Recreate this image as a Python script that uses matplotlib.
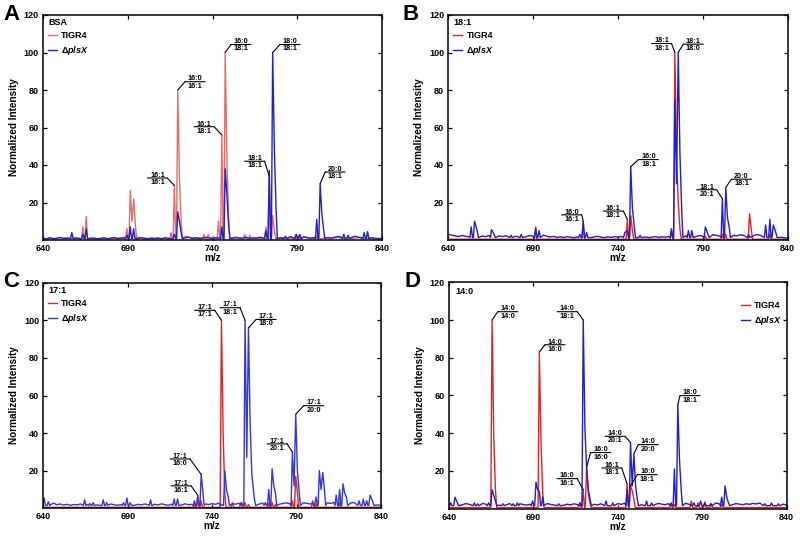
import matplotlib
matplotlib.use("Agg")
import matplotlib.pyplot as plt
from matplotlib.transforms import offset_copy
import numpy as np

plt.rcParams['font.family'] = ['Liberation Sans', 'DejaVu Sans']
plt.rcParams['font.weight'] = 'bold'
plt.rcParams['mathtext.fontset'] = 'custom'
plt.rcParams['mathtext.it'] = 'Liberation Sans:italic:bold'
plt.rcParams['mathtext.rm'] = 'Liberation Sans:bold'

# ---------------- data ----------------
x_ticks = [640, 690, 740, 790, 840]
y_ticks = [20, 40, 60, 80, 100, 120]
series_names = ["TIGR4", "\u0394$\\mathit{plsX}$"]
panel_letters = ["A", "B", "C", "D"]
panel_titles = ["BSA", "18:1", "17:1", "14:0"]

# baseline sampling positions (m/z)
base_mz = [640, 642, 644, 646, 648, 650, 652, 654, 656, 658, 660, 662, 664, 666, 668,
           670, 672, 674, 676, 678, 680, 682, 684, 686, 688, 690, 692, 694, 696, 698,
           700, 702, 704, 706, 708, 710, 712, 714, 716, 718, 720, 722, 724, 726, 728,
           730, 732, 734, 736, 738, 740, 742, 744, 746, 748, 750, 752, 754, 756, 758,
           760, 762, 764, 766, 768, 770, 772, 774, 776, 778, 780, 782, 784, 786, 788,
           790, 792, 794, 796, 798, 800, 802, 804, 806, 808, 810, 812, 814, 816, 818,
           820, 822, 824, 826, 828, 830, 832, 834, 836, 838, 840]
flat_mz = [640, 700, 760, 840]

# Panel A (BSA)
a_red_mz = [663.5, 665.5, 689.5, 691.5, 692.5, 693.5, 694.5, 715.5, 717.5, 719.5, 720.5, 721.5,
            735.0, 737.5, 743.5, 745.5, 747.5, 748.5, 749.5, 759.0, 762.0, 771.5, 773.5, 775.5,
            776.5, 789.0, 791.0, 801.5]
a_red_int = [7, 12.5, 6, 26.5, 10, 22, 8, 4, 29, 80, 33, 10,
             3, 3, 10, 56, 100, 43, 12, 3, 2.5, 7, 34, 13,
             5, 3, 2.5, 2]
a_red_base = [0.8, 0.5, 0.9, 0.6, 0.8, 0.5, 1.0, 0.7, 0.9, 0.6, 0.8, 0.5, 0.9, 0.7, 1.0,
              0.6, 0.8, 0.5, 0.9, 0.6, 0.8, 1.0, 0.7, 0.9, 1.5, 1.2, 0.9, 1.3, 1.6, 1.0,
              0.7, 0.9, 0.6, 0.8, 1.0, 0.7, 0.9, 0.6, 1.1, 0.8, 1.2, 1.6, 2.0, 1.4, 1.0,
              0.8, 1.2, 0.9, 1.3, 1.7, 1.4, 1.0, 1.2, 0.8, 1.1, 0.9, 1.3, 1.6, 1.0, 1.2,
              0.9, 1.2, 0.8, 1.0, 0.7, 0.9, 1.1, 1.4, 1.8, 1.2, 0.9, 1.1, 0.8, 1.0, 1.3,
              0.9, 1.2, 1.8, 1.4, 1.0, 0.8, 1.1, 0.7, 1.0, 1.2, 0.8, 1.1, 1.4, 1.0, 0.8,
              1.1, 0.8, 1.0, 1.3, 0.9, 0.7, 1.0, 0.8, 0.6, 0.7, 0.5]
a_blue_mz = [657.0, 663.5, 665.5, 689.5, 691.5, 693.5, 717.5, 719.5, 720.5, 721.5, 745.5, 747.5,
             748.5, 749.5, 771.5, 773.5, 775.5, 776.5, 777.5, 783.0, 789.5, 791.5, 801.5, 803.5,
             804.5, 805.5, 817.5, 820.0, 829.5, 831.5]
a_blue_int = [4, 3, 6, 2.5, 7, 6, 3, 15, 10, 4, 7, 38,
              24, 8, 5, 37, 100, 48, 17, 2, 3, 3, 11, 30,
              14, 6, 3, 2.5, 4, 4.5]
a_blue_base = [1.0, 0.6, 1.2, 0.7, 0.9, 1.4, 0.8, 1.1, 1.6, 0.9, 1.2, 0.7, 1.0, 1.3, 0.8,
               1.1, 0.6, 0.9, 1.2, 0.7, 1.0, 1.3, 0.8, 1.1, 0.9, 1.4, 0.8, 1.0, 0.7, 1.2,
               0.9, 0.6, 1.1, 0.8, 1.0, 0.7, 1.2, 0.9, 0.6, 1.0, 1.3, 0.8, 1.1, 1.5, 0.9,
               1.2, 0.8, 1.0, 1.4, 1.1, 0.8, 1.2, 1.0, 0.7, 1.3, 1.6, 1.0, 1.2, 0.9, 1.1,
               1.4, 0.9, 1.2, 1.0, 1.5, 1.1, 0.8, 1.3, 1.0, 1.4, 1.2, 0.9, 1.3, 1.8, 1.1,
               1.4, 1.0, 1.6, 1.2, 0.9, 1.3, 1.5, 1.1, 1.8, 1.3, 1.0, 1.5, 1.9, 1.4, 2.2,
               1.8, 1.3, 2.0, 1.5, 1.2, 2.0, 1.6, 1.2, 0.9, 0.8, 0.6]

# Panel B (18:1)
b_red_mz = [691.5, 719.5, 745.5, 747.5, 748.5, 771.5, 773.5, 774.5, 775.5, 776.5, 791.5, 801.5,
            803.5, 817.5, 818.5, 829.5]
b_red_int = [7, 9, 11, 13, 5, 5, 100, 45, 20, 6, 2, 3,
             3, 14, 6, 3]
b_red_base = [0.4, 0.4, 0.4, 0.4]
b_blue_mz = [653.5, 655.5, 657.0, 665.5, 667.0, 677.0, 683.0, 691.5, 693.5, 717.5, 719.5, 721.5,
             744.0, 745.5, 747.5, 748.5, 749.5, 753.0, 771.5, 773.5, 774.5, 775.5, 776.5, 777.5,
             781.5, 783.5, 791.5, 793.0, 801.5, 803.5, 804.5, 805.5, 817.0, 827.0, 829.5, 831.5,
             833.0]
b_blue_int = [7, 10, 5, 5.5, 3, 2.5, 3, 6, 5, 3, 10, 4,
              4, 5, 39, 17, 8, 2.5, 6, 75, 30, 100, 46, 17,
              5, 5, 7, 3, 22, 28, 12, 7, 3, 8, 11, 8,
              4]
b_blue_base = [3.0, 2.6, 2.2, 1.8, 2.4, 2.0, 1.7, 2.3, 1.9, 2.6, 2.1, 1.8, 2.4, 2.0, 2.7,
               2.2, 1.8, 2.3, 1.9, 2.5, 2.1, 2.8, 2.2, 1.8, 2.4, 2.0, 1.7, 2.3, 2.6, 2.0,
               1.6, 1.9, 1.4, 1.7, 1.3, 1.8, 1.5, 1.2, 1.6, 1.9, 1.4, 1.7, 1.3, 1.6, 2.0,
               1.5, 1.3, 1.7, 1.4, 1.8, 1.5, 1.9, 1.6, 2.2, 1.8, 1.5, 1.7, 1.4, 1.6, 1.3,
               1.5, 1.8, 1.4, 1.7, 1.5, 1.9, 2.2, 1.8, 2.5, 2.0, 2.3, 2.7, 2.1, 1.8, 2.4,
               2.0, 2.6, 2.2, 2.9, 2.4, 2.1, 2.6, 2.3, 2.0, 2.5, 2.2, 2.8, 2.4, 2.1, 2.6,
               2.3, 2.9, 2.5, 3.2, 2.7, 2.2, 2.0, 1.6, 1.4, 1.2, 1.0]

# Panel C (17:1)
c_red_mz = [729.5, 731.5, 733.5, 745.5, 746.5, 747.5, 752.0, 757.0, 759.5, 761.5, 773.5, 775.5,
            777.5, 787.5, 789.5, 790.5, 799.5, 801.5, 815.5]
c_red_int = [2, 7, 4, 100, 40, 8, 3, 3, 3, 2, 2.5, 3,
             2, 4, 17, 8, 4, 2, 3]
c_red_base = [0.5, 0.5, 0.5, 0.5]
c_blue_mz = [640.5, 643.0, 664.5, 667.5, 669.5, 675.5, 677.5, 687.5, 689.5, 691.5, 703.5, 717.5,
             719.5, 729.5, 731.5, 733.5, 734.5, 745.5, 747.5, 748.5, 749.5, 757.5, 759.5, 760.5,
             761.5, 762.5, 763.5, 765.0, 771.5, 773.5, 775.5, 776.5, 777.5, 787.5, 788.5, 789.5,
             790.5, 791.5, 801.5, 803.5, 804.5, 805.5, 806.5, 813.5, 815.5, 817.5, 818.5, 819.5,
             827.0, 829.5, 831.5, 833.5, 835.0]
c_blue_int = [5.5, 3.5, 4.5, 2.5, 3, 4.5, 3, 3, 5.5, 3, 4.5, 5,
              5, 4, 6, 18, 9, 2, 20, 10, 6, 3, 100, 27,
              96, 45, 18, 5, 3, 10, 21, 12, 8, 30, 12, 50,
              20, 9, 6, 20, 10, 19, 10, 7, 10, 13, 8, 6,
              4, 5, 4, 7, 4]
c_blue_base = [4.5, 3.0, 2.2, 2.8, 1.9, 2.3, 1.7, 2.1, 1.6, 2.0, 1.8, 2.3, 1.6, 2.0, 1.7,
               2.2, 1.8, 1.5, 2.1, 1.7, 2.3, 1.8, 1.6, 2.0, 1.7, 2.2, 1.9, 1.6, 2.1, 1.8,
               2.3, 1.9, 1.6, 2.1, 1.8, 2.4, 1.9, 1.6, 2.2, 1.8, 2.0, 1.7, 2.4, 1.9, 2.1,
               2.6, 2.0, 1.8, 2.3, 2.0, 2.5, 2.1, 2.8, 2.3, 2.6, 3.0, 2.4, 2.2, 2.7, 2.3,
               2.8, 2.4, 2.1, 2.6, 2.3, 2.8, 2.5, 2.2, 2.7, 2.4, 2.2, 2.6, 2.9, 2.4, 2.2,
               2.7, 2.5, 3.0, 2.6, 2.3, 2.8, 3.2, 2.7, 2.4, 2.9, 2.6, 3.1, 2.7, 3.4, 2.9,
               3.3, 2.8, 3.1, 3.6, 3.0, 3.5, 3.9, 3.2, 2.5, 1.8, 1.5]

# Panel D (14:0)
d_red_mz = [665.5, 666.5, 667.5, 693.5, 694.5, 695.5, 717.5, 719.5, 721.5, 722.5, 723.5, 745.5,
            747.5, 748.5, 749.5, 771.5, 773.5, 783.5, 787.5, 791.5, 795.5, 801.5]
d_red_int = [100, 38, 10, 83, 35, 8, 3, 10, 22, 8, 3, 13,
             12, 9.5, 5, 2, 2, 4, 3, 3.5, 2.5, 2]
d_red_base = [0.5, 0.5, 0.5, 0.5]
d_blue_mz = [641.0, 643.5, 645.0, 655.0, 657.0, 663.5, 665.5, 666.5, 667.5, 672.0, 678.0, 680.5,
             689.5, 691.5, 692.5, 693.5, 695.5, 705.0, 717.5, 719.5, 720.5, 721.5, 722.5, 723.5,
             733.0, 737.0, 745.5, 747.5, 748.5, 749.5, 750.5, 751.5, 757.0, 760.0, 771.5, 773.5,
             775.5, 776.5, 777.5, 785.0, 789.0, 791.5, 795.0, 801.5, 803.5, 804.5, 805.5, 827.0,
             831.0, 835.0]
d_blue_int = [3, 6, 3, 3, 2.5, 3, 10, 7, 4, 2.5, 2.5, 3,
              4, 14, 10, 9, 6, 2.5, 3, 100, 42, 22, 10, 5,
              4, 3, 10, 35, 12, 29, 12, 5, 4, 3, 3, 21,
              55, 26, 10, 3, 4, 3, 2.5, 6, 12, 6, 3, 2.5,
              3, 2.5]
d_blue_base = [3.0, 2.6, 3.5, 2.4, 2.0, 2.6, 2.2, 1.8, 2.4, 2.0, 2.7, 2.2, 1.9, 2.5, 2.1,
               1.8, 2.4, 2.0, 2.6, 2.2, 1.9, 2.5, 2.1, 1.8, 2.3, 2.0, 2.8, 2.4, 2.1, 2.6,
               2.2, 1.9, 2.4, 2.0, 1.7, 2.3, 1.9, 2.5, 2.1, 1.8, 2.4, 2.0, 2.6, 2.2, 1.9,
               2.5, 2.1, 2.7, 2.3, 2.0, 2.6, 2.2, 2.8, 2.4, 2.1, 2.7, 2.3, 2.0, 2.6, 2.9,
               2.4, 2.1, 2.7, 2.3, 2.0, 2.6, 2.2, 2.8, 2.4, 2.1, 2.7, 2.3, 2.9, 2.5, 2.2,
               2.8, 3.1, 2.6, 2.3, 2.9, 2.5, 2.2, 2.8, 2.4, 2.1, 2.6, 2.3, 2.0, 2.5, 2.2,
               2.7, 2.4, 2.9, 2.5, 2.8, 3.2, 2.7, 2.4, 2.9, 2.3, 1.8]

# annotations: (top label, bottom label, series, peak m/z)
ann_a = [("16:1", "16:1", "red", 717.5), ("16:0", "16:1", "red", 719.5),
         ("16:1", "18:1", "red", 745.5), ("16:0", "18:1", "red", 747.5),
         ("18:1", "18:1", "red", 773.5), ("18:0", "18:1", "blue", 775.5),
         ("20:0", "18:1", "blue", 803.5)]
ann_b = [("16:0", "16:1", "blue", 719.5), ("16:1", "18:1", "red", 745.5),
         ("16:0", "18:1", "blue", 747.5), ("18:1", "18:1", "red", 773.5),
         ("18:1", "18:0", "blue", 775.5), ("18:1", "20:1", "blue", 801.5),
         ("20:0", "18:1", "blue", 803.5)]
ann_c = [("17:1", "16:1", "red", 731.5), ("17:1", "16:0", "blue", 733.5),
         ("17:1", "17:1", "red", 745.5), ("17:1", "18:1", "blue", 759.5),
         ("17:1", "18:0", "blue", 761.5), ("17:1", "20:1", "blue", 787.5),
         ("17:1", "20:0", "blue", 789.5)]
ann_d = [("14:0", "14:0", "red", 665.5), ("14:0", "16:0", "red", 693.5),
         ("14:0", "18:1", "blue", 719.5), ("16:0", "16:1", "red", 719.5),
         ("16:0", "16:0", "red", 721.5), ("16:1", "18:1", "red", 745.5),
         ("14:0", "20:1", "blue", 747.5), ("14:0", "20:0", "blue", 749.5),
         ("16:0", "18:1", "red", 747.5), ("18:0", "18:1", "blue", 775.5)]

# ---------------- layout / style ----------------
# label leader offsets in pixels (side, dx, dy)
lay_a = [("L", -7, 7.6), ("R", 7.3, 8.3), ("L", -7.7, 8.3), ("R", 5.7, 8),
         ("L", -4.7, 15), ("R", 7.3, 8), ("R", 5, 11.7)]
lay_b = [("L", -1.5, 6.4), ("L", -4, 8.3), ("R", 7.7, 7.3), ("L", -3.3, 9),
         ("R", 5, 8.3), ("L", -5.7, 9), ("R", 5.7, 8.3)]
lay_c = [("L", -6.7, 9.3), ("L", -11.2, 15.5), ("L", -6.7, 10), ("L", -5, 12.6),
         ("R", 7.7, 8.4), ("L", -5.3, 8), ("R", 8, 8.6)]
lay_d = [("R", 5.7, 8.3), ("R", 5.7, 7.3), ("L", -6, 8.3), ("L", -6, 11),
         ("R", 4, 14.5), ("L", -5.4, 16), ("L", -5.5, 6.2), ("R", 4.4, 9.2),
         ("R", 6.8, 11.2), ("R", 2.2, 9.2)]

RED = "#e32222"
RED_A = "#e86a6a"
BLUE = "#2020c8"
BLUE_C = "#3535dc"

fig = plt.figure(figsize=(8.0, 5.37), dpi=100)

panels = [
    dict(pos=[43 / 800, 1 - 240 / 537, 339 / 800, 225 / 537],
         red=(a_red_mz, a_red_int, base_mz, a_red_base, 0.6),
         blue=(a_blue_mz, a_blue_int, base_mz, a_blue_base, 0.8),
         ann=ann_a, lay=lay_a, rc=RED_A, bc=BLUE, letter_xy=(0.004, 0.992)),
    dict(pos=[448.3 / 800, 1 - 240 / 537, 339.4 / 800, 225 / 537],
         red=(b_red_mz, b_red_int, flat_mz, b_red_base, 0.4),
         blue=(b_blue_mz, b_blue_int, base_mz, b_blue_base, 1.3),
         ann=ann_b, lay=lay_b, rc=RED, bc=BLUE, letter_xy=(0.503, 0.992)),
    dict(pos=[43.3 / 800, 1 - 508.3 / 537, 337.7 / 800, 225.6 / 537],
         red=(c_red_mz, c_red_int, flat_mz, c_red_base, 0.5),
         blue=(c_blue_mz, c_blue_int, base_mz, c_blue_base, 1.5),
         ann=ann_c, lay=lay_c, rc=RED, bc=BLUE_C, letter_xy=(0.004, 0.495)),
    dict(pos=[449 / 800, 1 - 508.5 / 537, 337.7 / 800, 226.2 / 537],
         red=(d_red_mz, d_red_int, flat_mz, d_red_base, 0.5),
         blue=(d_blue_mz, d_blue_int, base_mz, d_blue_base, 1.5),
         ann=ann_d, lay=lay_d, rc=RED, bc=BLUE, letter_xy=(0.505, 0.495)),
]

W = 0.75     # half width of a drawn peak foot (m/z units)
GAP = 1.6    # peaks closer than this are joined apex to apex
BAR = 20     # fraction bar length (pixels)


def build_trace(pmz, pint, bmz, bint, floor):
    pm = list(pmz)
    xs, ys = [], []
    n = len(pm)
    for k in range(n):
        c, h = pm[k], pint[k]
        joined_left = k > 0 and c - pm[k - 1] <= GAP
        joined_right = k < n - 1 and pm[k + 1] - c <= GAP
        if not joined_left:
            xs.append(c - W); ys.append(floor)
        xs.append(c); ys.append(h)
        if not joined_right:
            xs.append(c + W); ys.append(floor)
    spans = []
    k = 0
    while k < n:
        j = k
        while j < n - 1 and pm[j + 1] - pm[j] <= GAP:
            j += 1
        spans.append((pm[k] - W - 0.3, pm[j] + W + 0.3))
        k = j + 1
    for m, v in zip(bmz, bint):
        if all(not (a <= m <= b) for a, b in spans):
            xs.append(m); ys.append(v)
    xs = np.asarray(xs, float)
    ys = np.asarray(ys, float)
    order = np.argsort(xs, kind="stable")
    return xs[order], ys[order]


def label_peak(ax, mz, h, top, bot, side, dx, dy):
    lk = dict(arrowstyle="-", lw=0.8, color="black", shrinkA=0, shrinkB=0)
    ax.annotate("", xy=(mz, h), xytext=(dx, dy), textcoords="offset pixels", arrowprops=lk)
    sgn = 1 if side == "R" else -1
    tr = offset_copy(ax.transData, fig=fig, x=dx, y=dy, units="dots")
    ax.annotate("", xy=(mz, h), xycoords=tr, xytext=(sgn * BAR, 0),
                textcoords="offset pixels", arrowprops=lk, annotation_clip=False)
    cx = dx + sgn * BAR / 2
    ax.annotate(top, xy=(mz, h), xytext=(cx, dy + 1.2), textcoords="offset pixels",
                ha="center", va="baseline", fontsize=5.2, fontweight="bold")
    ax.annotate(bot, xy=(mz, h), xytext=(cx, dy - 1.0), textcoords="offset pixels",
                ha="center", va="top", fontsize=5.2, fontweight="bold")


for i, p in enumerate(panels):
    ax = fig.add_axes(p["pos"])
    rx, ry = build_trace(*p["red"])
    bx, by = build_trace(*p["blue"])
    lr, = ax.plot(rx, ry, color=p["rc"], lw=1.0, label=series_names[0])
    lb, = ax.plot(bx, by, color=p["bc"], lw=1.0, label=series_names[1])
    ax.set_xlim(640, 840)
    ax.set_ylim(0, 120)
    ax.set_xticks(x_ticks)
    ax.set_yticks(y_ticks)
    ax.tick_params(direction="in", top=True, right=True, length=3, width=0.9,
                   labelsize=6.5, pad=3)
    for s in ax.spines.values():
        s.set_linewidth(1.1)
    ax.set_xlabel("m/z", fontsize=7.2, fontweight="bold")
    ax.xaxis.set_label_coords(0.5, -0.058)
    ax.set_ylabel("Normalized Intensity", fontsize=7.2, fontweight="bold")
    ax.yaxis.set_label_coords(-0.072, 0.5)

    data = {"red": (p["red"][0], p["red"][1]), "blue": (p["blue"][0], p["blue"][1])}
    for (top, bot, ser, mz), (side, dx, dy) in zip(p["ann"], p["lay"]):
        mzs, ints = data[ser]
        h = ints[mzs.index(mz)]
        label_peak(ax, mz, h, top, bot, side, dx, dy)

    if i < 3:
        ax.legend(handles=[lr, lb], title=panel_titles[i], loc="upper left",
                  bbox_to_anchor=(5 / 339, 1 - 3 / 225), borderaxespad=0,
                  borderpad=0, frameon=False, fontsize=6.5, handlelength=1.0,
                  handletextpad=0.45, labelspacing=0.45, alignment="left",
                  title_fontproperties={"weight": "bold", "size": 6.5})
    else:
        ax.text(6 / 338, 1 - 5 / 226, panel_titles[i], transform=ax.transAxes,
                ha="left", va="top", fontsize=6.5, fontweight="bold")
        ax.legend(handles=[lr, lb], loc="upper right",
                  bbox_to_anchor=(1 - 5 / 338, 1 - 19 / 226), borderaxespad=0,
                  borderpad=0, frameon=False, fontsize=6.5, handlelength=1.0,
                  handletextpad=0.45, labelspacing=0.45)
    fig.text(p["letter_xy"][0], p["letter_xy"][1], panel_letters[i], fontsize=16,
             fontweight="bold", ha="left", va="top")

fig.savefig("out.png", dpi=100)
